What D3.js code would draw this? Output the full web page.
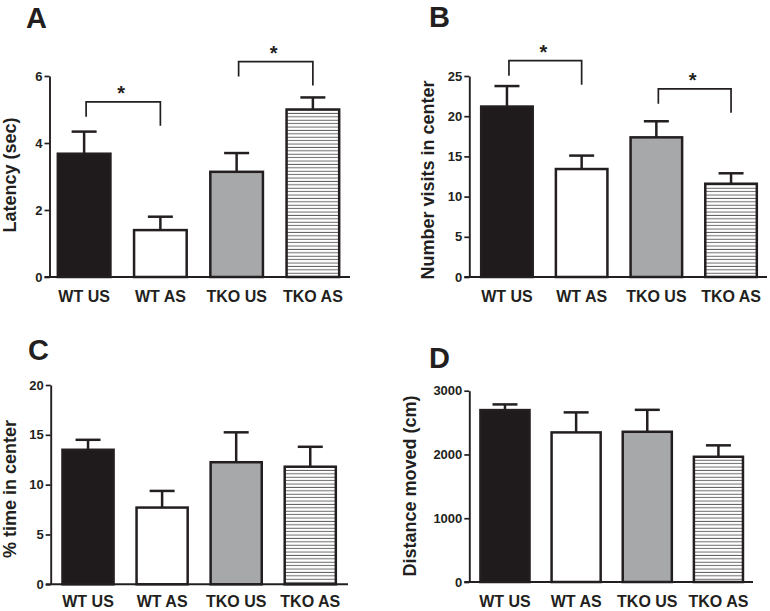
<!DOCTYPE html>
<html>
<head>
<meta charset="utf-8">
<script src="https://cdn.jsdelivr.net/npm/d3@7"></script>
<style>
  html, body { margin: 0; padding: 0; background: #fff; }
  svg { display: block; }
  text { font-family: "Liberation Sans", Arial, Helvetica, sans-serif; font-weight: bold; fill: #231f20; }
</style>
</head>
<body>
<svg id="chart" width="770" height="611"></svg>
<script>
// ---------------- data ----------------
const categories = ["WT US", "WT AS", "TKO US", "TKO AS"];

const latencyMean = [3.68, 1.40, 3.14, 5.00];
const latencySem  = [0.66, 0.40, 0.56, 0.36];
const latencyTicks = [0, 2, 4, 6];

const visitsMean = [21.2, 13.43, 17.37, 11.6];
const visitsSem  = [2.55, 1.67, 2.0, 1.3];
const visitsTicks = [0, 5, 10, 15, 20, 25];

const timeMean = [13.5, 7.7, 12.25, 11.8];
const timeSem  = [1.0, 1.67, 3.0, 2.0];
const timeTicks = [0, 5, 10, 15, 20];

const distMean = [2696, 2346, 2356, 1964];
const distSem  = [89, 314, 344, 179];
const distTicks = [0, 1000, 2000, 3000];

// significance comparisons: [indexA, indexB, bracket level in data units]
const latencySig = [[0, 1, 5.23], [2, 3, 6.43]];
const visitsSig  = [[0, 1, 26.9], [2, 3, 23.4]];

const panels = [
  { letter: "A", title: "Latency (sec)", mean: latencyMean, sem: latencySem, ticks: latencyTicks, sig: latencySig,
    x0: 49.5, band: [46, 351], lineEnd: 350, yTop: 76, yBottom: 277, letterX: 26, letterY: 27.5, labelX: 10, labelY: 175, pad: 14 },
  { letter: "B", title: "Number visits in center", mean: visitsMean, sem: visitsSem, ticks: visitsTicks, sig: visitsSig,
    x0: 469.3, band: [469.6, 768.4], lineEnd: 767, yTop: 76, yBottom: 277, letterX: 429, letterY: 26.5, labelX: 428, labelY: 180, pad: 14 },
  { letter: "C", title: "% time in center", mean: timeMean, sem: timeSem, ticks: timeTicks, sig: [],
    x0: 50.7, band: [51, 347.3], lineEnd: 348, yTop: 385, yBottom: 584.3, letterX: 28, letterY: 360, labelX: 10, labelY: 489, pad: 11.3 },
  { letter: "D", title: "Distance moved (cm)", mean: distMean, sem: distSem, ticks: distTicks, sig: [],
    x0: 469.3, band: [469.4, 754], lineEnd: 753, yTop: 390.7, yBottom: 582, letterX: 429, letterY: 368, labelX: 410, labelY: 486, pad: 13.5 }
];

const fills = ["#1f1b1c", "#ffffff", "#a7a8aa", "url(#hatch)"];
const ink = "#231f20";

// ---------------- drawing ----------------
const svg = d3.select("#chart");

const defs = svg.append("defs");
const pat = defs.append("pattern")
  .attr("id", "hatch").attr("patternUnits", "userSpaceOnUse")
  .attr("width", 8).attr("height", 3.4);
pat.append("rect").attr("width", 8).attr("height", 3.4).attr("fill", "#fff");
pat.append("line").attr("x1", 0).attr("x2", 8).attr("y1", 1.2).attr("y2", 1.2)
  .attr("stroke", "#555").attr("stroke-width", 0.9);

panels.forEach(p => {
  const g = svg.append("g");
  const x = d3.scaleBand().domain(categories).range(p.band).paddingInner(0.31).paddingOuter(0.155);
  const yMax = p.ticks[p.ticks.length - 1];
  const y = d3.scaleLinear().domain([0, yMax]).range([p.yBottom, p.yTop]);

  // panel letter
  g.append("text").attr("x", p.letterX).attr("y", p.letterY)
    .style("font-size", "29px").text(p.letter);

  // y title
  g.append("text")
    .attr("transform", `translate(${p.labelX},${p.labelY}) rotate(-90)`)
    .attr("text-anchor", "middle").attr("dy", "0.36em")
    .style("font-size", "18px").text(p.title);

  // y axis
  const yAxis = d3.axisLeft(y).tickValues(p.ticks).tickSize(5).tickSizeOuter(0).tickPadding(2)
    .tickFormat(d3.format("d"));
  const ya = g.append("g").attr("transform", `translate(${p.x0},0)`).call(yAxis);
  ya.selectAll("path.domain").attr("stroke", ink).attr("stroke-width", 1.9);
  ya.selectAll(".tick line").attr("stroke", ink).attr("stroke-width", 1.7);
  ya.selectAll(".tick text").style("font-size", "13px").style("font-weight", "bold")
    .style("font-family", "'Liberation Sans', Arial, sans-serif").attr("fill", ink);

  // bars
  g.selectAll("rect.bar").data(p.mean).enter().append("rect")
    .attr("class", "bar")
    .attr("x", (d, i) => x(categories[i]))
    .attr("y", d => y(d))
    .attr("width", x.bandwidth())
    .attr("height", d => y(0) - y(d))
    .attr("fill", (d, i) => fills[i])
    .attr("stroke", ink).attr("stroke-width", 2.5);

  // error bars (upper only)
  const capW = 25;
  p.mean.forEach((m, i) => {
    const cx = x(categories[i]) + x.bandwidth() / 2;
    const top = y(m + p.sem[i]);
    g.append("line").attr("x1", cx).attr("x2", cx).attr("y1", y(m)).attr("y2", top)
      .attr("stroke", ink).attr("stroke-width", 2.5);
    g.append("line").attr("x1", cx - capW / 2).attr("x2", cx + capW / 2).attr("y1", top).attr("y2", top)
      .attr("stroke", ink).attr("stroke-width", 2.5);
  });

  // x axis line
  g.append("line").attr("x1", p.x0 - 5).attr("x2", p.lineEnd)
    .attr("y1", y(0)).attr("y2", y(0)).attr("stroke", ink).attr("stroke-width", 1.9);

  // x labels
  const xAxis = d3.axisBottom(x).tickSize(0).tickPadding(p.pad);
  const xa = g.append("g").attr("transform", `translate(0,${y(0)})`).call(xAxis);
  xa.select("path.domain").remove();
  xa.selectAll(".tick text").style("font-size", "16px").style("font-weight", "bold")
    .style("font-family", "'Liberation Sans', Arial, sans-serif").attr("fill", ink);

  // significance brackets
  p.sig.forEach(([a, b, level]) => {
    const xa1 = x(categories[a]) + x.bandwidth() / 2 + 2;
    const xb1 = x(categories[b]) + x.bandwidth() / 2;
    const yl = y(level);
    g.append("path")
      .attr("d", `M${xa1},${yl + 15}V${yl}H${xb1}V${yl + 24}`)
      .attr("fill", "none").attr("stroke", ink).attr("stroke-width", 1.7);
    g.append("text").attr("x", (xa1 + xb1) / 2 - 2).attr("y", yl - 2)
      .attr("text-anchor", "middle").style("font-size", "20px").text("*");
  });
});
</script>
</body>
</html>
